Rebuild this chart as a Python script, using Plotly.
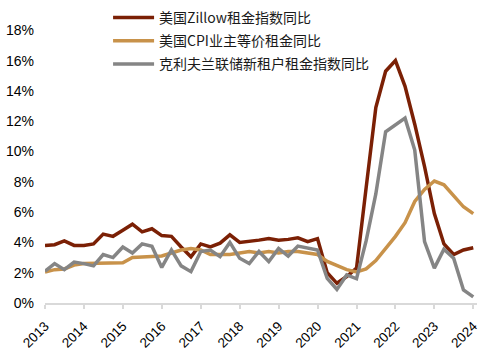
import plotly.graph_objects as go

years = list(range(2013, 2025))
quarters = [f"{y}-{m:02d}-01" for y in range(2013, 2025) for m in (1, 4, 7, 10)][:45]

zillow = [3.8, 3.85, 4.1, 3.8,
          3.8, 3.9, 4.55, 4.4,
          4.8, 5.2, 4.7, 4.9,
          4.45, 4.4, 3.7, 3.05,
          3.9, 3.7, 3.95, 4.5,
          4.0, 4.05, 4.15, 4.25,
          4.15, 4.2, 4.3, 4.05,
          4.25, 2.0, 1.3, 1.75,
          2.3, 7.6, 12.9, 15.3,
          16.0, 14.3, 11.8, 9.0,
          5.9, 3.9, 3.2, 3.5,
          3.65]

cpi_oer = [2.05, 2.2, 2.25, 2.5,
           2.6, 2.6, 2.65, 2.6,
           2.65, 3.0, 3.05, 3.05,
           3.1, 3.3, 3.5, 3.6,
           3.5, 3.2, 3.2, 3.2,
           3.3, 3.4, 3.3, 3.4,
           3.3, 3.4, 3.4, 3.3,
           3.2, 2.75, 2.45, 2.2,
           2.05, 2.25, 2.8, 3.6,
           4.4, 5.3, 6.7, 7.5,
           8.05, 7.8, 7.1, 6.35,
           5.9]

cleveland = [2.1, 2.6, 2.2, 2.7,
             2.6, 2.45, 3.2, 3.0,
             3.7, 3.3, 3.9, 3.75,
             2.35, 3.5, 2.45, 2.07,
             3.4, 3.5, 3.06, 4.0,
             2.95, 2.6, 3.4, 2.73,
             3.6, 3.1, 3.76, 3.6,
             3.5, 1.63, 0.9, 1.85,
             1.6, 4.1, 7.2, 11.3,
             11.75, 12.2, 10.1, 4.05,
             2.3, 3.55, 2.95, 0.86,
             0.4]

names = ["美国Zillow租金指数同比", "美国CPI业主等价租金同比", "克利夫兰联储新租户租金指数同比"]
colors = ["#7B2005", "#C8924A", "#858585"]
series = [zillow, cpi_oer, cleveland]

y_ticks = [0, 2, 4, 6, 8, 10, 12, 14, 16, 18]
y_labels = [f"{v}%" for v in y_ticks]
x_ticks = [f"{y}-01-01" for y in years]
x_labels = [str(y) for y in years]

fig = go.Figure()
for name, col, vals in zip(names, colors, series):
    fig.add_trace(go.Scatter(x=quarters, y=vals, mode="lines", name=name,
                             legendgroup=name,
                             line=dict(color=col, width=3.5)))

fig.update_layout(
    width=500, height=351,
    margin=dict(l=45, r=23, t=30, b=48, autoexpand=False),
    paper_bgcolor="white", plot_bgcolor="white",
    font=dict(family="Liberation Sans, Arial, sans-serif", size=13, color="#000000"),
    showlegend=True,
    legend=dict(x=0.146, y=1.1026,
                xanchor="left", yanchor="top",
                font=dict(family="Noto Sans CJK SC", size=14, color="#1a1a1a"),
                itemwidth=41, tracegroupgap=2,
                bgcolor="rgba(0,0,0,0)"),
)
fig.update_xaxes(type="date", range=["2013-01-01", "2024-02-05"],
                 tickmode="array", tickvals=x_ticks, ticktext=x_labels,
                 tickangle=-45, ticks="outside", ticklen=4, tickcolor="#d9d9d9",
                 tickwidth=1.5, ticklabelstandoff=4,
                 showline=True, linecolor="#d9d9d9", linewidth=2,
                 showgrid=False, zeroline=False,
                 tickfont=dict(size=13.5))
fig.update_yaxes(range=[0, 18.02], tickmode="array", tickvals=y_ticks, ticktext=y_labels,
                 showgrid=False, zeroline=False, showline=False, ticks="",
                 ticklabelstandoff=10, tickfont=dict(size=14))

fig.write_html("out.html")
